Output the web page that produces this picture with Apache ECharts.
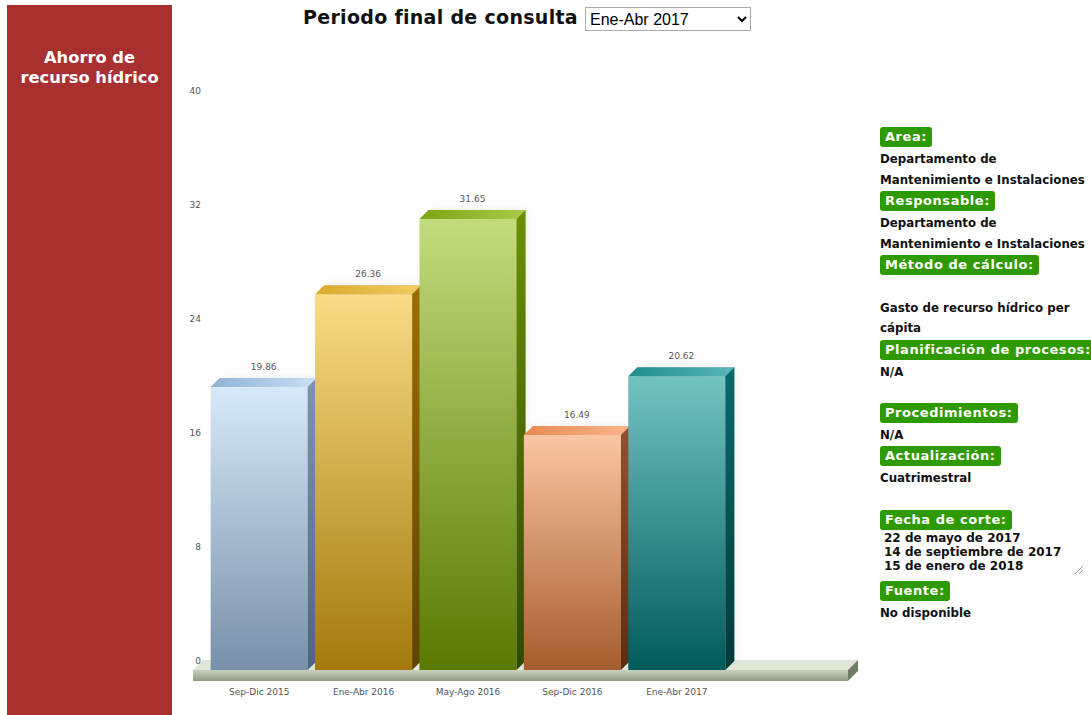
<!DOCTYPE html>
<html><head><meta charset="utf-8">
<script src="https://cdn.jsdelivr.net/npm/echarts@6/dist/echarts.min.js"></script>
<style>
html,body{margin:0;padding:0;width:1091px;height:715px;overflow:hidden;background:#fff;font-family:"DejaVu Sans",Verdana,sans-serif;}
#chart{position:absolute;left:0;top:0;width:1091px;height:715px;}
#left{position:absolute;left:7px;top:5px;width:165px;height:710px;background:#a93030;color:#fff;font-weight:bold;font-size:16.3px;text-align:center;line-height:20px;padding-top:43px;box-sizing:border-box;}
#title{position:absolute;left:303px;top:6px;font-weight:bold;font-size:19px;color:#111;letter-spacing:0.3px;}
#sel{position:absolute;left:585px;top:7px;width:166px;height:24px;font-family:"Liberation Sans",Arial,sans-serif;font-size:16px;border:1px solid #aaa;background:#fff;color:#000;}
.lab{position:absolute;left:880px;background:#2f9a00;color:#fff;font-weight:bold;font-size:13px;letter-spacing:0.55px;padding:1px 5px 1px 5px;border-radius:3px;line-height:18px;white-space:nowrap;}
.txt{position:absolute;left:880px;font-weight:bold;font-size:11.8px;color:#111;white-space:nowrap;line-height:14px;}
#ta{position:absolute;left:881px;top:531px;width:204px;height:46px;font-weight:bold;font-size:12px;line-height:14px;color:#111;padding-left:3px;white-space:nowrap;}
#grip{position:absolute;left:1075px;top:566px;width:8px;height:8px;background:linear-gradient(135deg,transparent 45%,#999 46%,#999 54%,transparent 55%,transparent 70%,#999 71%,#999 79%,transparent 80%);}
</style></head>
<body>
<div id="chart"></div>
<div id="left">Ahorro de<br>recurso hídrico</div>
<div id="title">Periodo final de consulta</div>
<select id="sel"><option>Ene-Abr 2017</option></select>

<div class="lab" style="top:127px">Area:</div>
<div class="txt" style="top:152px">Departamento de</div>
<div class="txt" style="top:173px">Mantenimiento e Instalaciones</div>
<div class="lab" style="top:191px">Responsable:</div>
<div class="txt" style="top:216px">Departamento de</div>
<div class="txt" style="top:237px">Mantenimiento e Instalaciones</div>
<div class="lab" style="top:255px">Método de cálculo:</div>
<div class="txt" style="top:301px">Gasto de recurso hídrico per</div>
<div class="txt" style="top:321px">cápita</div>
<div class="lab" style="top:340px">Planificación de procesos:</div>
<div class="txt" style="top:365px">N/A</div>
<div class="lab" style="top:403px">Procedimientos:</div>
<div class="txt" style="top:428px">N/A</div>
<div class="lab" style="top:446px">Actualización:</div>
<div class="txt" style="top:471px">Cuatrimestral</div>
<div class="lab" style="top:510px">Fecha de corte:</div>
<div id="ta">22 de mayo de 2017<br>14 de septiembre de 2017<br>15 de enero de 2018</div>
<div id="grip"></div>
<div class="lab" style="top:581px">Fuente:</div>
<div class="txt" style="top:606px">No disponible</div>

<script>
const categories = ['Sep-Dic 2015', 'Ene-Abr 2016', 'May-Ago 2016', 'Sep-Dic 2016', 'Ene-Abr 2017'];
const values = [19.86, 26.36, 31.65, 16.49, 20.62];
const yTicks = [0, 8, 16, 24, 32, 40];

const palette = [
  {front:['#d7e9f9','#7890a9'], top:['#8fb3d6','#c9def2'], side:['#7d95ae','#4e6580']},
  {front:['#f9dc86','#a37a0b'], top:['#d9a92a','#f3cd62'], side:['#9b6f00','#5e4300']},
  {front:['#c1dc7d','#5a7902'], top:['#7aa514','#a8cc4a'], side:['#6a9100','#2f4a00']},
  {front:['#fbc5a3','#a65d2d'], top:['#e88a52','#f8b58a'], side:['#92522a','#5a2e12']},
  {front:['#74c3c3','#015b5b'], top:['#1f8c8c','#5ab6b6'], side:['#0a6a6a','#003a3a']}
];
const D = 9;

function lg(c){return new echarts.graphic.LinearGradient(0,0,0,1,[{offset:0,color:c[0]},{offset:1,color:c[1]}]);}
function lgx(c){return new echarts.graphic.LinearGradient(0,0,1,0,[{offset:0,color:c[0]},{offset:1,color:c[1]}]);}

const chart = echarts.init(document.getElementById('chart'), null, {renderer:'svg'});
chart.setOption({
  animation:false,
  grid:[
    {left:207, width:522, top:100, height:570},
    {left:216, width:522, top:91, height:570}
  ],
  xAxis:[
    {type:'category', gridIndex:0, data:categories, axisLine:{show:false}, axisTick:{show:false},
     axisLabel:{margin:17, color:'#555', fontSize:9, fontFamily:'DejaVu Sans'}},
    {type:'category', gridIndex:1, data:categories, show:false}
  ],
  yAxis:[
    {type:'value', gridIndex:0, min:yTicks[0], max:yTicks[yTicks.length-1], interval:8, show:false},
    {type:'value', gridIndex:1, min:yTicks[0], max:yTicks[yTicks.length-1], interval:8,
     axisLine:{show:false}, axisTick:{show:false}, splitLine:{show:false},
     axisLabel:{margin:15, color:'#555', fontSize:9, fontFamily:'DejaVu Sans'}}
  ],
  graphic:[
    {type:'polygon', z:0, shape:{points:[[203,660],[858,660],[848,670],[193,670]]}, style:{fill:'#dfe6d8'}},
    {type:'rect', z:0, shape:{x:193,y:670,width:655,height:11}, style:{fill:new echarts.graphic.LinearGradient(0,0,0,1,[{offset:0,color:'#c9d1be'},{offset:1,color:'#8e9c84'}])}},
    {type:'polygon', z:0, shape:{points:[[848,670],[858,660],[858,671],[848,681]]}, style:{fill:'#6f7c66'}}
  ],
  series:[{
    type:'custom', xAxisIndex:0, yAxisIndex:0, z:5,
    data: values.map((v,i)=>[i,v]),
    renderItem: function(params, api){
      const i = api.value(0), v = api.value(1);
      const pTop = api.coord([i, v]);
      const pBot = api.coord([i, 0]);
      const w = api.size([1,0])[0]*0.93;
      const l = pTop[0]-w/2, r = pTop[0]+w/2, t = pTop[1], b = pBot[1];
      const p = palette[i % palette.length];
      return {type:'group', children:[
        {type:'polygon', shape:{points:[[l+D,t-D],[r+D,t-D],[r+D,b-D],[l+D,b-D]]},
         style:{fill:'rgba(0,0,0,0.18)', shadowBlur:8, shadowColor:'rgba(0,0,0,0.35)', shadowOffsetX:2, shadowOffsetY:-2}},
        {type:'rect', shape:{x:l, y:t, width:w, height:b-t}, style:{fill:lg(p.front)}},
        {type:'polygon', shape:{points:[[l,t],[r,t],[r+D,t-D],[l+D,t-D]]}, style:{fill:lgx(p.top)}},
        {type:'polygon', shape:{points:[[r,t],[r+D,t-D],[r+D,b-D],[r,b]]}, style:{fill:lg(p.side)}},
        {type:'text', style:{x:(l+r)/2+D/2, y:t-D-11, text:v.toFixed(2), fill:'#555', fontSize:9, fontFamily:'DejaVu Sans', align:'center', verticalAlign:'middle'}}
      ]};
    }
  }]
});
</script>
</body></html>
